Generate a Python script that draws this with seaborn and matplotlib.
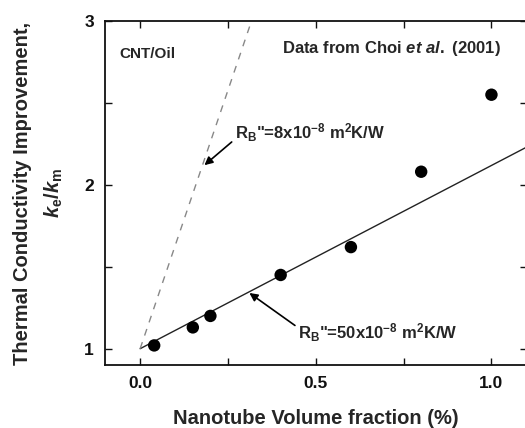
import matplotlib
matplotlib.use("Agg")
import matplotlib.pyplot as plt
from matplotlib.ticker import MultipleLocator
import pandas as pd
import seaborn as sns

# Measured data (Choi et al. 2001), CNT/Oil
vol_frac = [0.04, 0.15, 0.20, 0.40, 0.60, 0.80, 1.00]
k_ratio = [1.02, 1.13, 1.20, 1.45, 1.62, 2.08, 2.55]

# Model lines (end points)
fit50_x = [0.0, 1.1]
fit50_y = [1.0, 2.23]
fit8_x = [0.0, 0.317]
fit8_y = [1.0, 3.0]

sns.set_theme(style="ticks")
plt.rcParams['font.family'] = ['Liberation Sans', 'DejaVu Sans']
plt.rcParams['font.weight'] = 'bold'
plt.rcParams['mathtext.fontset'] = 'custom'
plt.rcParams['mathtext.rm'] = 'Liberation Sans:bold'
plt.rcParams['mathtext.bf'] = 'Liberation Sans:bold'
plt.rcParams['mathtext.it'] = 'Liberation Sans:italic:bold'

fig = plt.figure(figsize=(5.25, 4.28), dpi=100)
ax = fig.add_axes([0.2, 0.147, 0.803, 0.804])

df_pts = pd.DataFrame({'x': vol_frac, 'y': k_ratio})
df_50 = pd.DataFrame({'x': fit50_x, 'y': fit50_y})
df_8 = pd.DataFrame({'x': fit8_x, 'y': fit8_y})

sns.lineplot(data=df_50, x='x', y='y', ax=ax, color='#222222', linewidth=1.0)
sns.lineplot(data=df_8, x='x', y='y', ax=ax, color='#888888', linewidth=1.0,
             linestyle=(0, (5, 5)))
sns.scatterplot(data=df_pts, x='x', y='y', ax=ax, color='black', s=80,
                edgecolor='none', zorder=5)

ax.set_xlim(-0.1, 1.1)
ax.set_ylim(0.9, 3.0)
ax.xaxis.set_minor_locator(MultipleLocator(0.25))
ax.yaxis.set_minor_locator(MultipleLocator(0.5))
ax.set_xticks([0.0, 0.5, 1.0])
ax.set_xticklabels(['0.0', '0.5', '1.0'], fontweight='bold')
ax.set_yticks([1, 2, 3])
ax.set_yticklabels(['1', '2', '3'], fontweight='bold')
ax.tick_params(which='both', direction='in', top=True, right=True,
               width=1.0, labelsize=12.5, pad=8, colors='#111111')
ax.tick_params(which='both', length=5)
for sp in ax.spines.values():
    sp.set_linewidth(1.3)
    sp.set_color('#111111')

ax.set_xlabel('Nanotube Volume fraction (%)', fontsize=14.5, fontweight='bold',
              labelpad=13)
ax.set_ylabel('Thermal Conductivity Improvement,\n$\\it{k}$$_\\mathregular{e}$/$\\it{k}$$_\\mathregular{m}$',
              fontsize=14.5, fontweight='bold', labelpad=14, linespacing=1.6)

ax.text(0.02, 2.80, 'CNT/Oil', fontsize=11, fontweight='bold', va='center', ha='center')
ax.text(0.714, 2.835, 'Data from Choi $\\it{et\\ al.}$ (2001)', fontsize=12,
        fontweight='bold', va='center', ha='center')

ax.annotate('R$_\\mathregular{B}$"=8x10$^\\mathregular{-8}$ m$^\\mathregular{2}$K/W',
            xy=(0.183, 2.12), xytext=(0.27, 2.32), fontsize=12, fontweight='bold',
            va='center', ha='left',
            arrowprops=dict(arrowstyle='-|>', color='black', lw=1.2,
                            shrinkA=0, shrinkB=0, mutation_scale=12,
                            relpos=(0.0, 0.2)))
ax.annotate('R$_\\mathregular{B}$"=50x10$^\\mathregular{-8}$ m$^\\mathregular{2}$K/W',
            xy=(0.311, 1.34), xytext=(0.45, 1.1), fontsize=12, fontweight='bold',
            va='center', ha='left',
            arrowprops=dict(arrowstyle='-|>', color='black', lw=1.2,
                            shrinkA=0, shrinkB=0, mutation_scale=12,
                            relpos=(0.0, 0.7)))

fig.savefig('out.png', dpi=100)
